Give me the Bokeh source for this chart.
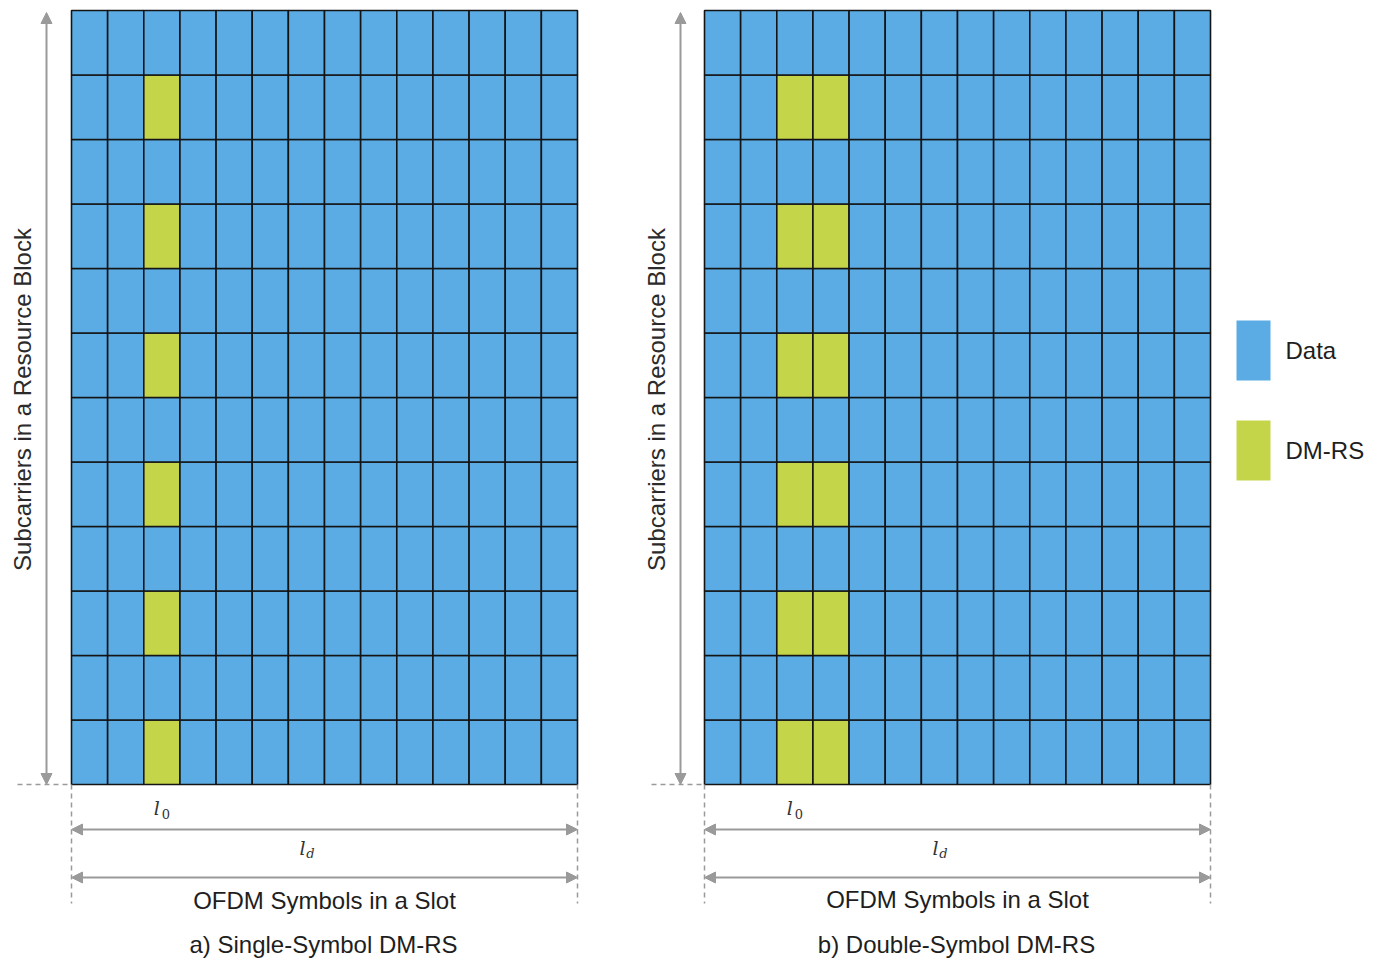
from math import pi
from bokeh.plotting import figure
from bokeh.models import Range1d, Arrow, NormalHead, ColumnDataSource
from bokeh.core.properties import value
from bokeh.embed import file_html
from bokeh.resources import INLINE

# ---- data ----
n_symbols = 14
n_subcarriers = 12
dmrs_subcarriers = [10, 8, 6, 4, 2, 0]       # subcarrier index (0 = bottom)
dmrs_symbols_single = [2]
dmrs_symbols_double = [2, 3]
panel_titles = ["a) Single-Symbol DM-RS", "b) Double-Symbol DM-RS"]
y_label = "Subcarriers in a Resource Block"
x_label = "OFDM Symbols in a Slot"
legend_labels = ["Data", "DM-RS"]

DATA_COLOR = "#5BACE5"
DMRS_COLOR = "#C5D549"
ARROW_COLOR = "#9a9a9a"
FONT = "Liberation Sans"

W, H = 1377, 960
p = figure(width=W, height=H, output_backend="svg", toolbar_location=None,
           x_range=Range1d(0, W), y_range=Range1d(H, 0),
           min_border=0, outline_line_color=None)
p.axis.visible = False
p.grid.visible = False
p.background_fill_color = "white"

# geometry (pixel layout)
grid_top, grid_bottom = 10, 784
cell_h = (grid_bottom - grid_top) / n_subcarriers
cell_w = (577 - 71) / n_symbols
panels = [(71, dmrs_symbols_single, 46), (704, dmrs_symbols_double, 680)]

for pi_idx, (x0, dsyms, ax_x) in enumerate(panels):
    L, R, T, B, C = [], [], [], [], []
    for s in range(n_symbols):
        for k in range(n_subcarriers):
            L.append(x0 + s * cell_w)
            R.append(x0 + (s + 1) * cell_w)
            T.append(grid_bottom - (k + 1) * cell_h)
            B.append(grid_bottom - k * cell_h)
            C.append(DMRS_COLOR if (s in dsyms and k in dmrs_subcarriers) else DATA_COLOR)
    src = ColumnDataSource(dict(left=L, right=R, top=T, bottom=B, color=C))
    p.quad(left="left", right="right", top="top", bottom="bottom", fill_color="color",
           line_color="#141414", line_width=1.6, source=src)
    x1 = x0 + n_symbols * cell_w
    xm = (x0 + x1) / 2

    # vertical double arrow
    p.add_layout(Arrow(x_start=ax_x, y_start=grid_bottom, x_end=ax_x, y_end=grid_top + 2,
                       line_color=ARROW_COLOR, line_width=2,
                       start=NormalHead(size=11, fill_color=ARROW_COLOR, line_color=ARROW_COLOR),
                       end=NormalHead(size=11, fill_color=ARROW_COLOR, line_color=ARROW_COLOR)))
    # dashed baseline left of grid
    p.line([ax_x - 29, x0], [grid_bottom, grid_bottom], line_color=ARROW_COLOR,
           line_width=1.5, line_dash="5 4")
    # vertical dashed guides
    for xx in (x0, x1):
        p.line([xx, xx], [grid_bottom, 903], line_color=ARROW_COLOR,
               line_width=1.5, line_dash="5 4")
    # horizontal double arrows
    for yy in (829, 877):
        p.add_layout(Arrow(x_start=x0, y_start=yy, x_end=x1, y_end=yy,
                           line_color=ARROW_COLOR, line_width=2,
                           start=NormalHead(size=11, fill_color=ARROW_COLOR, line_color=ARROW_COLOR),
                           end=NormalHead(size=11, fill_color=ARROW_COLOR, line_color=ARROW_COLOR)))
    # y label
    p.text(x=[ax_x - 24], y=[(grid_top + grid_bottom) / 2 + 2], text=[y_label], angle=pi / 2,
           text_font=value(FONT), text_font_size="24px", text_color="#2b2b2b",
           text_align="center", text_baseline="middle")
    # l0 and ld
    l0_x = x0 + (dsyms[0] + 0.5) * cell_w
    p.text(x=[l0_x - 5], y=[807], text=["l"], text_font=value("DejaVu Serif"),
           text_font_style="italic", text_font_size="19px", text_color="#333333",
           text_align="center", text_baseline="middle")
    p.text(x=[l0_x + 4], y=[813], text=["0"], text_font=value("DejaVu Serif"),
           text_font_size="13px", text_color="#333333",
           text_align="center", text_baseline="middle")
    ld_x = xm - 22
    p.text(x=[ld_x], y=[847], text=["l"], text_font=value("DejaVu Serif"),
           text_font_style="italic", text_font_size="19px", text_color="#333333",
           text_align="center", text_baseline="middle")
    p.text(x=[ld_x + 8], y=[853], text=["d"], text_font=value("DejaVu Serif"),
           text_font_style="italic", text_font_size="13px", text_color="#333333",
           text_align="center", text_baseline="middle")
    # x label and panel title
    p.text(x=[xm], y=[900 - 1 * pi_idx], text=[x_label], text_font=value(FONT),
           text_font_size="24px", text_color="#1e1e1e",
           text_align="center", text_baseline="middle")
    p.text(x=[xm - 1], y=[944], text=[panel_titles[pi_idx]], text_font=value(FONT),
           text_font_size="24px", text_color="#1e1e1e",
           text_align="center", text_baseline="middle")

# legend
for i, (lab, col) in enumerate(zip(legend_labels, [DATA_COLOR, DMRS_COLOR])):
    yc = 350 + i * 100
    p.quad(left=[1236], right=[1270], top=[yc - 30], bottom=[yc + 30],
           fill_color=col, line_color=None)
    p.text(x=[1285], y=[yc], text=[lab], text_font=value(FONT), text_font_size="24px",
           text_color="#1e1e1e", text_align="left", text_baseline="middle")

open("out.html", "w").write(file_html(p, INLINE))
